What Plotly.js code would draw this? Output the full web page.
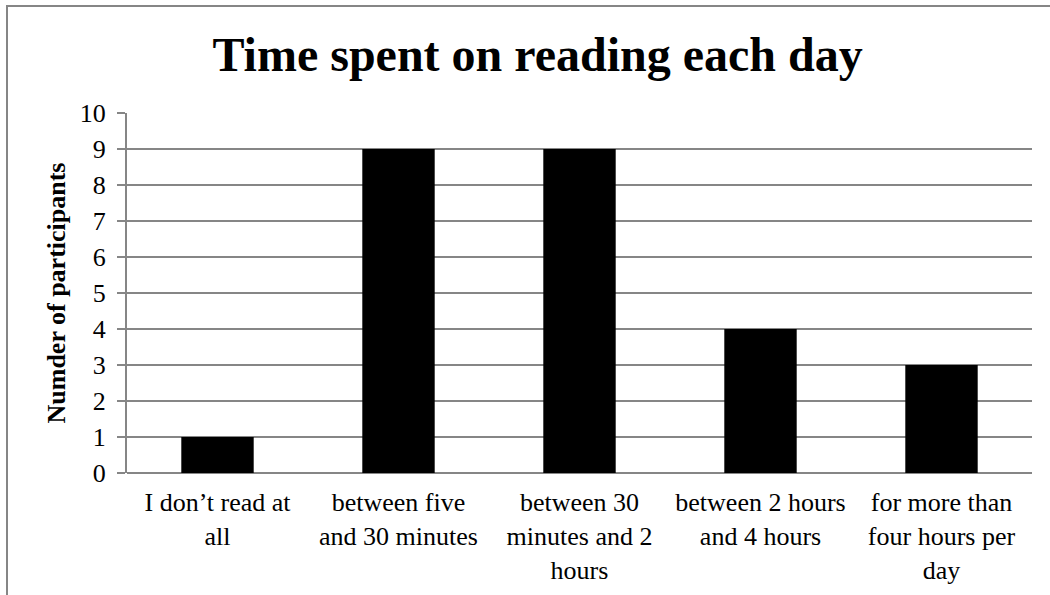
<!DOCTYPE html>
<html>
<head>
<meta charset="utf-8">
<script src="https://cdn.plot.ly/plotly-3.0.1.min.js"></script>
<style>
html,body{margin:0;padding:0;background:#fff;}
#wrap{position:relative;width:1050px;height:595px;overflow:hidden;}
#chart{position:absolute;left:0;top:0;width:1050px;height:595px;}
#frame{position:absolute;left:6px;top:5px;width:1100px;height:700px;border-left:2px solid #868686;border-top:2px solid #868686;pointer-events:none;}
</style>
</head>
<body>
<div id="wrap"><div id="chart"></div><div id="frame"></div></div>
<script>
const categories = [
  "I don\u2019t read at<br>all",
  "between five<br>and 30 minutes",
  "between 30<br>minutes and 2<br>hours",
  "between 2 hours<br>and 4 hours",
  "for more than<br>four hours per<br>day"
];
const participants = [1, 9, 9, 4, 3];
const yTicks = [0,1,2,3,4,5,6,7,8,9,10];

const serif = "Liberation Serif, Times New Roman, serif";

Plotly.newPlot('chart', [{
  type: 'bar',
  x: categories,
  y: participants,
  marker: {color: '#000000', line: {width: 0}},
  hoverinfo: 'none'
}], {
  width: 1050,
  height: 595,
  margin: {l: 127, r: 18, t: 113, b: 121.5, pad: 0},
  paper_bgcolor: '#ffffff',
  plot_bgcolor: '#ffffff',
  bargap: 0.6,
  showlegend: false,
  title: {
    text: '<b>Time spent on reading each day</b>',
    font: {family: serif, size: 48, color: '#000'},
    x: 0.512, xanchor: 'center',
    y: 0.88, yanchor: 'bottom'
  },
  xaxis: {
    type: 'category',
    showgrid: false,
    showline: false,
    zeroline: false,
    ticks: '',
    tickfont: {family: serif, size: 26, color: '#000'},
    ticklabelstandoff: 11
  },
  yaxis: {
    range: [0, 10],
    tickvals: yTicks,
    ticktext: yTicks.map(String),
    showgrid: true,
    gridcolor: '#868686',
    gridwidth: 2,
    showline: true,
    linecolor: '#868686',
    linewidth: 2,
    zeroline: true,
    zerolinecolor: '#868686',
    zerolinewidth: 2,
    ticks: 'outside',
    ticklen: 8,
    tickwidth: 2,
    tickcolor: '#868686',
    tickfont: {family: serif, size: 26, color: '#000'},
    ticklabelstandoff: 6,
    title: {
      text: '<b>Numder of participants</b>',
      font: {family: serif, size: 26, color: '#000'},
      standoff: 7
    }
  }
}, {displayModeBar: false, staticPlot: true});
</script>
</body>
</html>
